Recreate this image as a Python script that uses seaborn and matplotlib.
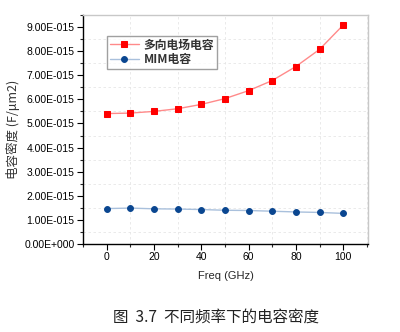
import matplotlib
matplotlib.use("Agg")
import matplotlib.pyplot as plt
import seaborn as sns
import pandas as pd
import numpy as np
from matplotlib.ticker import FuncFormatter, MultipleLocator

freq = [0, 10, 20, 30, 40, 50, 60, 70, 80, 90, 100]
multi_field = [5.41, 5.43, 5.50, 5.61, 5.79, 6.03, 6.36, 6.78, 7.36, 8.07, 9.08]  # x1e-15
mim = [1.47, 1.49, 1.46, 1.45, 1.43, 1.40, 1.39, 1.36, 1.33, 1.31, 1.27]  # x1e-15
series_names = ["多向电场电容", "MIM电容"]
x_label = "Freq (GHz)"
y_label = "电容密度 (F/μm2)"
caption = "图  3.7  不同频率下的电容密度"

sns.set_theme(style="white")
plt.rcParams['font.family'] = ['Liberation Sans', 'Noto Sans CJK SC', 'DejaVu Sans']

df1 = pd.DataFrame({"freq": freq, "val": np.array(multi_field) * 1e-15})
df2 = pd.DataFrame({"freq": freq, "val": np.array(mim) * 1e-15})

fig = plt.figure(figsize=(4.0, 3.32), dpi=100)
ax = fig.add_axes([0.2075, 0.265, 0.7125, 0.69])

sns.lineplot(data=df1, x="freq", y="val", ax=ax, color="#ff8a8a", lw=1.0,
             marker="s", markersize=4, markerfacecolor="#ff0000",
             markeredgecolor="#ff0000", label=series_names[0])
sns.lineplot(data=df2, x="freq", y="val", ax=ax, color="#a9c0dc", lw=1.0,
             marker="o", markersize=4.2, markerfacecolor="#0a4690",
             markeredgecolor="#0a4690", label=series_names[1])

ax.set_xlim(-10, 110.5)
ax.set_ylim(0, 9.5e-15)
ax.xaxis.set_major_locator(MultipleLocator(20))
ax.xaxis.set_minor_locator(MultipleLocator(10))
ax.yaxis.set_major_locator(MultipleLocator(1e-15))
ax.yaxis.set_minor_locator(MultipleLocator(0.5e-15))


def efmt(v, pos):
    if abs(v) < 1e-30:
        return "0.00E+000"
    exp = int(np.floor(np.log10(abs(v)) + 1e-9))
    mant = v / 10 ** exp
    sign = "-" if exp < 0 else "+"
    return f"{mant:.2f}E{sign}{abs(exp):03d}"


ax.yaxis.set_major_formatter(FuncFormatter(efmt))
ax.yaxis.set_ticks_position("left")
ax.xaxis.set_ticks_position("bottom")
ax.tick_params(axis="both", which="major", direction="out", length=4, width=0.8,
               labelsize=7.5, colors="black", pad=2)
ax.tick_params(axis="both", which="minor", direction="out", length=2, width=0.8)

ax.grid(False, which="major")
ax.grid(True, which="minor", color="#e6e6e6", linestyle=(0, (3, 3)), lw=0.6)

for s in ["left", "bottom"]:
    ax.spines[s].set_color("black")
    ax.spines[s].set_linewidth(1.0)
for s in ["top", "right"]:
    ax.spines[s].set_color("#c8c8c8")
    ax.spines[s].set_linewidth(1.0)

ax.set_xlabel(x_label, fontsize=8, labelpad=6)
ax.set_ylabel(y_label, fontsize=9, labelpad=3,
              family=['Noto Sans CJK SC', 'DejaVu Sans'], color="#333333")

leg = ax.legend(loc="upper left", bbox_to_anchor=(0.083, 0.91), fontsize=8.5,
                frameon=True, fancybox=False, edgecolor="#888888",
                handlelength=2.5, handletextpad=0.4, borderpad=0.25,
                labelspacing=0.1, borderaxespad=0)
for t in leg.get_texts():
    t.set_family(['Noto Sans CJK SC', 'DejaVu Sans'])
    t.set_fontweight("bold")
    t.set_color("#333333")

fig.text(0.2825, 0.045, caption, fontsize=11.2, ha="left", va="center",
         family=['Noto Sans CJK SC', 'DejaVu Sans'], color="#222222")

fig.savefig("out.png", dpi=100, facecolor="white")
